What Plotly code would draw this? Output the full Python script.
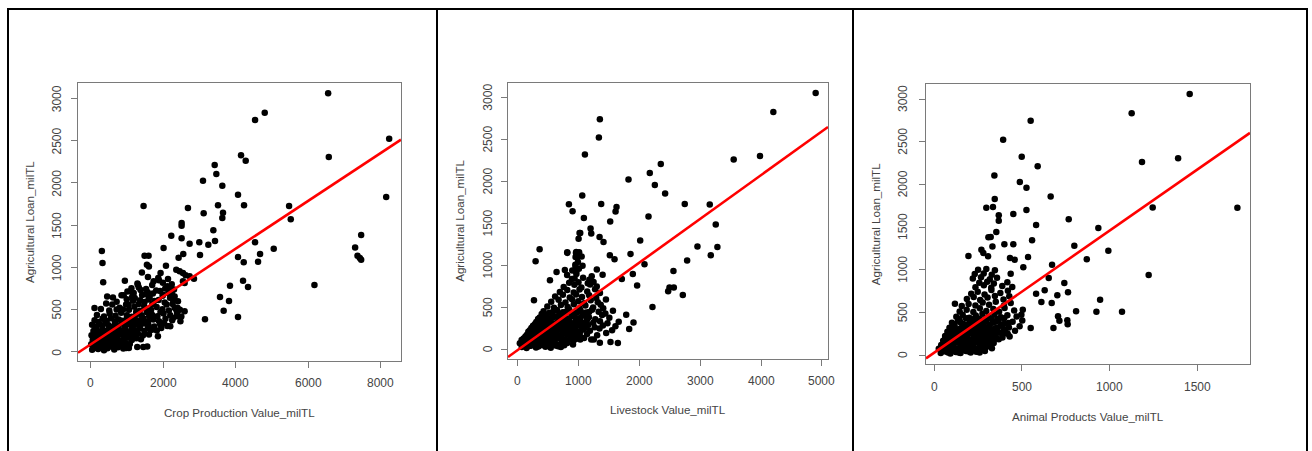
import plotly.graph_objects as go

# ---------------- data ----------------
crop_points = [
    (6555, 3059), (4806, 2830), (4539, 2743), (8239, 2522), (6573, 2305), (4152, 2325), (4281, 2262),
    (3425, 2210), (3471, 2104), (3103, 2025), (3636, 1966), (4069, 1859), (8157, 1831), (1464, 1725),
    (2688, 1701), (3517, 1733), (4235, 1733), (5478, 1725), (5524, 1567), (3121, 1638), (3655, 1646),
    (3636, 1583), (2513, 1524), (2513, 1492), (3388, 1437), (2228, 1374), (3434, 1310), (2513, 1342),
    (2016, 1228), (2734, 1279), (3001, 1295), (3250, 1267), (3020, 1145), (2559, 1156), (4539, 1295),
    (5054, 1220), (4677, 1156), (4069, 1121), (4226, 1058), (4622, 1066), (2430, 1113), (313, 1192),
    (331, 1050), (350, 821), (1491, 1137), (1602, 1137), (1556, 1030), (1611, 1010), (2366, 971),
    (2458, 951), (2550, 931), (2624, 904), (2734, 892), (2854, 864), (6177, 789), (7300, 1235),
    (7466, 1381), (7365, 1137), (7429, 1109), (7466, 1089), (4207, 841), (4345, 766), (3848, 781),
    (3572, 647), (3820, 600), (3673, 485), (4069, 410), (3158, 383), (2596, 478), (948, 841),
    (1418, 939), (1584, 884), (1933, 931), (985, 43), (1059, 43), (1289, 55), (1455, 55), (1565, 63),
    (1869, 872), (2081, 1018), (2210, 734), (2320, 655), (2118, 774), (2000, 675), (2596, 813),
    (2550, 833), (1307, 793), (856, 667), (460, 655), (110, 517), (1123, 714), (2412, 596),
    (2366, 497), (2274, 399), (1952, 280), (1860, 182), (2025, 339), (1694, 261), (1584, 280),
]
crop_cluster = [
    (45, 22), (130, 48), (210, 31), (305, 55), (372, 18), (468, 41), (560, 63), (655, 27), (760, 52), (905, 38),
    (20, 88), (98, 72), (176, 105), (262, 81), (341, 112), (420, 76), (515, 98), (598, 118), (690, 84), (782, 109),
    (871, 77), (968, 101), (1085, 92),
    (62, 138), (148, 161), (229, 127), (318, 149), (399, 171), (487, 133), (571, 156), (662, 140), (741, 168),
    (836, 131), (925, 152), (1032, 164), (1140, 139), (1265, 158), (1390, 147),
    (28, 196), (115, 214), (201, 183), (287, 207), (375, 189), (452, 219), (538, 193), (631, 211), (718, 185),
    (809, 203), (897, 221), (990, 188), (1095, 209), (1188, 196), (1306, 217), (1445, 191), (1612, 205),
    (81, 246), (166, 269), (249, 238), (343, 261), (428, 243), (517, 276), (603, 251), (694, 233), (779, 268),
    (868, 247), (957, 272), (1051, 239), (1149, 264), (1247, 250), (1369, 277), (1488, 244), (1654, 262), (1829, 251),
    (43, 318), (139, 296), (236, 331), (322, 305), (405, 337), (498, 312), (589, 293), (676, 326), (765, 301),
    (852, 335), (947, 309), (1046, 328), (1137, 298), (1238, 319), (1357, 306), (1476, 334), (1601, 311),
    (1758, 297), (1922, 326), (2118, 304),
    (112, 372), (219, 351), (331, 389), (447, 363), (561, 395), (672, 358), (783, 381), (897, 366), (1009, 398),
    (1118, 354), (1226, 384), (1341, 369), (1463, 392), (1590, 357), (1734, 380), (1891, 362), (2067, 389), (2253, 371),
    (178, 436), (372, 418), (529, 452), (688, 427), (845, 461), (1003, 433), (1139, 414), (1276, 447), (1411, 428),
    (1552, 466), (1697, 438), (1846, 419), (2014, 452), (2201, 431), (2389, 463), (2505, 418),
    (286, 507), (517, 489), (804, 521), (1062, 498), (1211, 533), (1358, 486), (1517, 512), (1671, 494),
    (1824, 528), (1983, 503), (2161, 488), (2322, 519), (2466, 497),
    (433, 571), (721, 592), (982, 558), (1175, 603), (1328, 566), (1489, 589), (1704, 561), (1879, 611),
    (2047, 584), (2265, 566), (1599, 617),
    (619, 642), (914, 668), (1221, 637), (1424, 671), (1631, 648), (1988, 662), (2193, 639),
    (1019, 712), (1191, 694), (1382, 731), (1577, 703), (1811, 724), (2147, 696), (1129, 752), (1333, 759),
    (1533, 741), (2062, 748), (2303, 737),
    (1294, 806), (1702, 791), (1996, 817), (2241, 798), (1887, 846), (2138, 861), (1741, 834),
    (1050, 560), (1260, 470), (1480, 540), (1620, 420), (1760, 600), (1930, 470), (2100, 560), (2280, 610),
    (2400, 520), (1150, 650), (1370, 610), (1520, 680), (1720, 690), (1920, 720), (2250, 680), (900, 500),
    (1000, 620), (720, 500), (600, 560), (2380, 420), (2480, 360), (2200, 300),
]

live_points = [
    (4896, 3056), (4200, 2830), (1347, 2742), (1331, 2524), (1101, 2321), (3548, 2261), (3981, 2305),
    (2349, 2210), (2168, 2102), (2251, 1959), (1818, 2023), (2420, 1856), (1057, 1832), (838, 1729),
    (898, 1645), (1369, 1733), (1621, 1697), (1605, 1641), (1084, 1566), (1517, 1522), (2147, 1582),
    (2743, 1733), (3154, 1725), (3253, 1486), (3280, 1220), (3171, 1121), (2952, 1224), (2782, 1057),
    (2557, 934), (2492, 735), (2470, 691), (2563, 735), (2711, 648), (2212, 505), (2010, 1296),
    (1851, 1137), (2081, 1013), (1960, 759), (1889, 898), (1708, 839), (1780, 413), (1900, 318),
    (1829, 242), (1643, 76), (1522, 87), (1347, 79), (1205, 115), (1024, 115), (356, 1192),
    (290, 1049), (263, 584), (526, 823), (635, 922), (810, 1156), (1024, 1387), (1194, 1439),
    (1205, 1379), (1342, 1339), (1407, 1280), (1511, 1121), (1588, 1073), (1013, 1387), (997, 1319),
    (958, 1160), (947, 1101), (986, 1041), (947, 982), (958, 922), (931, 843),
]
live_cluster = [
    (62, 28), (141, 16), (213, 41), (297, 22), (368, 47), (452, 31), (539, 19), (618, 44), (706, 27),
    (31, 73), (104, 91), (178, 62), (249, 84), (326, 58), (401, 97), (477, 69), (553, 88), (634, 61),
    (721, 93), (809, 74), (905, 57),
    (92, 127), (167, 109), (238, 143), (314, 118), (389, 136), (463, 104), (541, 149), (617, 121), (694, 139),
    (779, 112), (868, 146), (962, 125), (1088, 133), (1247, 116),
    (143, 171), (219, 193), (294, 163), (371, 187), (446, 158), (522, 198), (598, 176), (672, 161), (751, 192),
    (838, 169), (925, 186), (1019, 157), (1136, 181), (1302, 168), (1451, 194),
    (196, 228), (273, 212), (347, 241), (423, 219), (501, 246), (576, 208), (655, 233), (733, 214), (812, 243),
    (897, 224), (983, 207), (1074, 238), (1183, 221), (1341, 247), (1548, 226),
    (248, 279), (329, 263), (404, 291), (483, 268), (559, 297), (641, 274), (718, 258), (799, 285), (884, 266),
    (969, 293), (1058, 271), (1153, 289), (1262, 262), (1397, 283), (1603, 274),
    (301, 326), (383, 345), (462, 318), (537, 339), (619, 309), (703, 331), (781, 348), (866, 314), (949, 337),
    (1041, 322), (1133, 346), (1238, 317), (1349, 334), (1472, 311), (1657, 328),
    (358, 378), (449, 402), (531, 365), (622, 391), (713, 412), (797, 371), (889, 398), (978, 366), (1072, 405),
    (1167, 382), (1271, 359), (1384, 409), (1503, 376),
    (421, 452), (518, 436), (641, 468), (739, 441), (842, 473), (931, 429), (1029, 462), (1121, 438), (1218, 471),
    (1327, 447), (1438, 426), (1562, 459),
    (483, 511), (592, 494), (706, 527), (817, 503), (918, 536), (1013, 489), (1109, 521), (1236, 498),
    (1361, 532), (1402, 489),
    (547, 568), (668, 589), (781, 557), (889, 596), (991, 571), (1087, 548), (1196, 583), (1313, 561), (1447, 592),
    (611, 628), (739, 649), (852, 617), (957, 654), (1053, 622), (1171, 643), (1287, 611),
    (689, 682), (811, 708), (917, 677), (1012, 713), (1139, 689), (1268, 716), (1348, 671),
    (752, 741), (928, 768), (1043, 736), (1187, 772), (1296, 748), (842, 792), (995, 798), (1148, 786), (1243, 803),
    (887, 838), (1071, 852), (1174, 829), (808, 884), (961, 897), (1213, 871), (1392, 889),
    (771, 946), (893, 938), (1002, 961), (1297, 952), (943, 1008), (1062, 996), (976, 1094), (1047, 1106),
    (953, 1147), (1006, 1158), (812, 1149),
    (100, 45), (180, 38), (255, 58), (335, 33), (410, 52), (495, 42), (575, 63), (660, 36), (760, 48),
    (60, 110), (135, 95), (210, 120), (285, 100), (355, 92), (430, 125), (505, 115), (585, 100), (660, 130),
    (740, 118), (820, 98), (915, 105),
    (120, 150), (195, 165), (265, 140), (340, 175), (415, 150), (490, 178), (565, 162), (640, 185), (715, 150),
    (800, 178), (880, 160), (980, 175),
    (170, 210), (240, 195), (310, 220), (385, 203), (460, 232), (540, 222), (615, 198), (690, 245), (770, 228),
    (855, 205), (940, 240), (1030, 215),
    (220, 255), (300, 245), (370, 270), (445, 250), (520, 278), (600, 258), (680, 290), (760, 268), (840, 295),
    (925, 252), (1010, 280), (1100, 255),
    (280, 300), (350, 312), (425, 295), (500, 325), (580, 290), (660, 320), (740, 300), (825, 330), (905, 305),
    (995, 340), (1090, 305),
    (330, 360), (410, 375), (490, 350), (570, 380), (665, 360), (755, 385), (840, 355), (930, 390), (1025, 372),
    (1120, 395),
    (390, 420), (470, 410), (570, 440), (680, 420), (785, 445), (880, 415), (980, 440), (1075, 425), (1170, 445),
]

anim_points = [
    (1458, 3058), (1127, 2832), (551, 2746), (394, 2523), (500, 2324), (591, 2211), (1186, 2262),
    (1392, 2305), (344, 2105), (489, 2027), (527, 1961), (665, 1859), (346, 1828), (298, 1726),
    (336, 1734), (369, 1637), (369, 1574), (452, 1652), (527, 1699), (1247, 1730), (1730, 1726),
    (768, 1590), (582, 1523), (355, 1441), (310, 1379), (323, 1383), (937, 1488), (800, 1281),
    (871, 1121), (994, 1223), (559, 1344), (401, 1297), (452, 1297), (333, 1273), (270, 1234),
    (281, 1195), (196, 1160), (308, 1156), (433, 1137), (460, 1117), (536, 1148), (509, 1027),
    (673, 1059), (654, 902), (1224, 937), (743, 844), (764, 734), (631, 758), (582, 719), (612, 621),
    (703, 699), (671, 609), (810, 512), (926, 508), (1072, 508), (947, 648), (707, 453), (715, 402),
    (760, 406), (762, 359), (681, 316), (551, 316), (498, 473), (506, 531),
]
anim_cluster = [
    (38, 24), (67, 41), (93, 18), (124, 36), (151, 22), (182, 47), (209, 29), (241, 38),
    (27, 72), (54, 91), (83, 63), (109, 86), (138, 68), (166, 97), (193, 74), (224, 89), (252, 61), (281, 83),
    (41, 118), (68, 134), (96, 109), (121, 147), (149, 123), (178, 139), (204, 112), (233, 145), (259, 127),
    (288, 138), (319, 116),
    (52, 168), (79, 191), (107, 159), (134, 183), (162, 171), (189, 196), (216, 163), (244, 187), (273, 174),
    (303, 199), (337, 166), (369, 184),
    (63, 223), (91, 246), (118, 211), (147, 238), (173, 219), (201, 249), (229, 226), (257, 241), (286, 214),
    (316, 236), (351, 222), (393, 247), (431, 218),
    (76, 272), (104, 291), (131, 263), (159, 287), (187, 269), (214, 296), (243, 276), (271, 259), (299, 293),
    (329, 271), (362, 288), (408, 264), (462, 283),
    (88, 318), (117, 341), (146, 309), (171, 334), (198, 322), (227, 347), (254, 314), (283, 338), (312, 326),
    (346, 311), (379, 343), (427, 322), (488, 336),
    (102, 377), (137, 401), (168, 364), (203, 389), (236, 412), (263, 371), (297, 397), (333, 379), (368, 408),
    (401, 367), (448, 391), (503, 403),
    (127, 448), (163, 471), (201, 437), (238, 462), (276, 484), (309, 446), (344, 474), (381, 441), (418, 467), (471, 452),
    (146, 509), (186, 531), (224, 503), (261, 547), (298, 517), (338, 538), (371, 506), (402, 552), (457, 521),
    (158, 573), (197, 598), (236, 581), (277, 614), (314, 589), (352, 624), (398, 577), (119, 602), (437, 609),
    (187, 657), (226, 681), (263, 646), (305, 673), (347, 692), (396, 651), (429, 688),
    (212, 718), (249, 742), (288, 709), (327, 761), (378, 727), (421, 753),
    (236, 794), (284, 817), (326, 788), (389, 808), (446, 796), (258, 846), (303, 858), (341, 839), (418, 852),
    (221, 897), (268, 911), (318, 889), (359, 906), (232, 948), (283, 956), (329, 941), (437, 952),
    (251, 998), (298, 1009), (347, 992),
    (50, 45), (80, 30), (110, 52), (140, 28), (170, 58), (198, 40), (228, 55), (260, 30), (290, 48),
    (40, 95), (70, 80), (98, 98), (125, 75), (155, 100), (182, 80), (210, 102), (238, 72), (268, 100),
    (298, 95), (330, 80),
    (55, 140), (85, 150), (112, 128), (138, 160), (165, 140), (192, 155), (220, 130), (248, 160), (275, 148),
    (305, 160), (340, 140),
    (65, 200), (95, 180), (122, 205), (150, 185), (178, 210), (205, 180), (232, 205), (260, 195), (290, 185),
    (322, 210), (355, 195), (390, 205),
    (85, 255), (112, 240), (140, 258), (168, 245), (196, 262), (224, 240), (250, 262), (278, 245), (306, 255),
    (338, 250), (375, 260), (420, 250),
    (98, 300), (128, 295), (158, 318), (186, 300), (212, 312), (240, 298), (268, 310), (296, 302), (325, 300),
    (358, 318), (400, 300),
    (115, 360), (152, 380), (186, 352), (220, 372), (250, 360), (280, 385), (315, 355), (350, 390), (385, 355),
    (425, 375),
    (145, 420), (182, 430), (220, 418), (258, 425), (292, 420), (328, 428), (362, 422), (400, 430),
]

# fitted regression lines (intercept, slope)
crop_fit = (86, 0.283)
live_fit = (-7, 0.521)
anim_fit = (26, 1.43)

x_titles = ["Crop Production Value_milTL", "Livestock Value_milTL", "Animal Products Value_milTL"]
y_title = "Agricultural Loan_milTL"
x_tickvals = [[0, 2000, 4000, 6000, 8000], [0, 1000, 2000, 3000, 4000, 5000], [0, 500, 1000, 1500]]
y_tickvals = [0, 500, 1000, 1500, 2000, 2500, 3000]

# ---------------- layout geometry ----------------
W, H = 1312, 451
panels = [
    dict(px=(78, 401), py=(83, 361), xr=(-345, 8565), yr=(-110, 3181),
         ytitle_x=30, xtitle_y=412, xlab_y=383, ylab_x=57),
    dict(px=(508, 828), py=(82.7, 359), xr=(-164, 5099), yr=(-116, 3178),
         ytitle_x=460, xtitle_y=409, xlab_y=381, ylab_x=488),
    dict(px=(926, 1250), py=(84, 364.3), xr=(-46, 1802), yr=(-109, 3176),
         ytitle_x=875, xtitle_y=416, xlab_y=387, ylab_x=903),
]
series = [(crop_points + crop_cluster, crop_fit), (live_points + live_cluster, live_fit),
          (anim_points + anim_cluster, anim_fit)]

FONT = "Liberation Sans, Arial, sans-serif"
TXT = "#444444"
BOX = "#7a7a7a"

fig = go.Figure()
layout = dict(width=W, height=H, margin=dict(l=0, r=0, t=0, b=0),
              paper_bgcolor="white", plot_bgcolor="white", showlegend=False,
              font=dict(family=FONT, size=12, color=TXT))
annotations = []
shapes = []

for i, (p, (pts, fit)) in enumerate(zip(panels, series)):
    n = "" if i == 0 else str(i + 1)
    xs = [a for a, b in pts]
    ys = [b for a, b in pts]
    fig.add_trace(go.Scatter(x=xs, y=ys, mode="markers", xaxis="x" + n, yaxis="y" + n,
                             marker=dict(color="black", size=6.5, line=dict(width=0)),
                             hoverinfo="skip"))
    x0, x1 = p["xr"]
    b0, b1 = fit
    fig.add_trace(go.Scatter(x=[x0, x1], y=[b0 + b1 * x0, b0 + b1 * x1], mode="lines",
                             xaxis="x" + n, yaxis="y" + n,
                             line=dict(color="#ff0000", width=2.6), hoverinfo="skip"))
    xd = [p["px"][0] / W, p["px"][1] / W]
    yd = [1 - p["py"][1] / H, 1 - p["py"][0] / H]
    common = dict(showgrid=False, zeroline=False, showline=True, mirror=True,
                  linecolor=BOX, linewidth=1.3, ticks="outside", ticklen=6,
                  tickcolor=BOX, tickwidth=1.2, showticklabels=False, tickmode="array")
    layout["xaxis" + n] = dict(domain=xd, range=list(p["xr"]), anchor="y" + n,
                               tickvals=x_tickvals[i], **common)
    layout["yaxis" + n] = dict(domain=yd, range=list(p["yr"]), anchor="x" + n,
                               tickvals=y_tickvals, **common)
    # tick labels placed on the axis scales
    for v in x_tickvals[i]:
        annotations.append(dict(text=str(v), x=v, xref="x" + n, y=1 - p["xlab_y"] / H, yref="paper",
                                showarrow=False, xanchor="center", yanchor="middle",
                                font=dict(family=FONT, size=12, color=TXT)))
    for v in y_tickvals:
        annotations.append(dict(text=str(v), x=p["ylab_x"] / W, xref="paper", y=v, yref="y" + n,
                                showarrow=False, xanchor="center", yanchor="middle", textangle=-90,
                                font=dict(family=FONT, size=12, color=TXT)))
    cx = (p["px"][0] + p["px"][1]) / 2 / W
    cy = 1 - (p["py"][0] + p["py"][1]) / 2 / H
    annotations.append(dict(text=x_titles[i], x=cx, y=1 - p["xtitle_y"] / H, xref="paper", yref="paper",
                            showarrow=False, xanchor="center", yanchor="middle",
                            font=dict(family=FONT, size=11.6, color=TXT)))
    annotations.append(dict(text=y_title, x=p["ytitle_x"] / W, y=cy, xref="paper", yref="paper",
                            showarrow=False, xanchor="center", yanchor="middle", textangle=-90,
                            font=dict(family=FONT, size=11.6, color=TXT)))

# table borders around the three cells
def hline(y, xa, xb):
    shapes.append(dict(type="line", xref="paper", yref="paper", x0=xa / W, x1=xb / W,
                       y0=1 - y / H, y1=1 - y / H, line=dict(color="black", width=2)))

def vline(x, ya, yb):
    shapes.append(dict(type="line", xref="paper", yref="paper", x0=x / W, x1=x / W,
                       y0=1 - ya / H, y1=1 - yb / H, line=dict(color="black", width=2)))

hline(9, 7, 1308)
for xv in (8, 437, 853, 1307):
    vline(xv, 8, 452)

layout["annotations"] = annotations
layout["shapes"] = shapes
fig.update_layout(**layout)
fig.write_html("out.html")
